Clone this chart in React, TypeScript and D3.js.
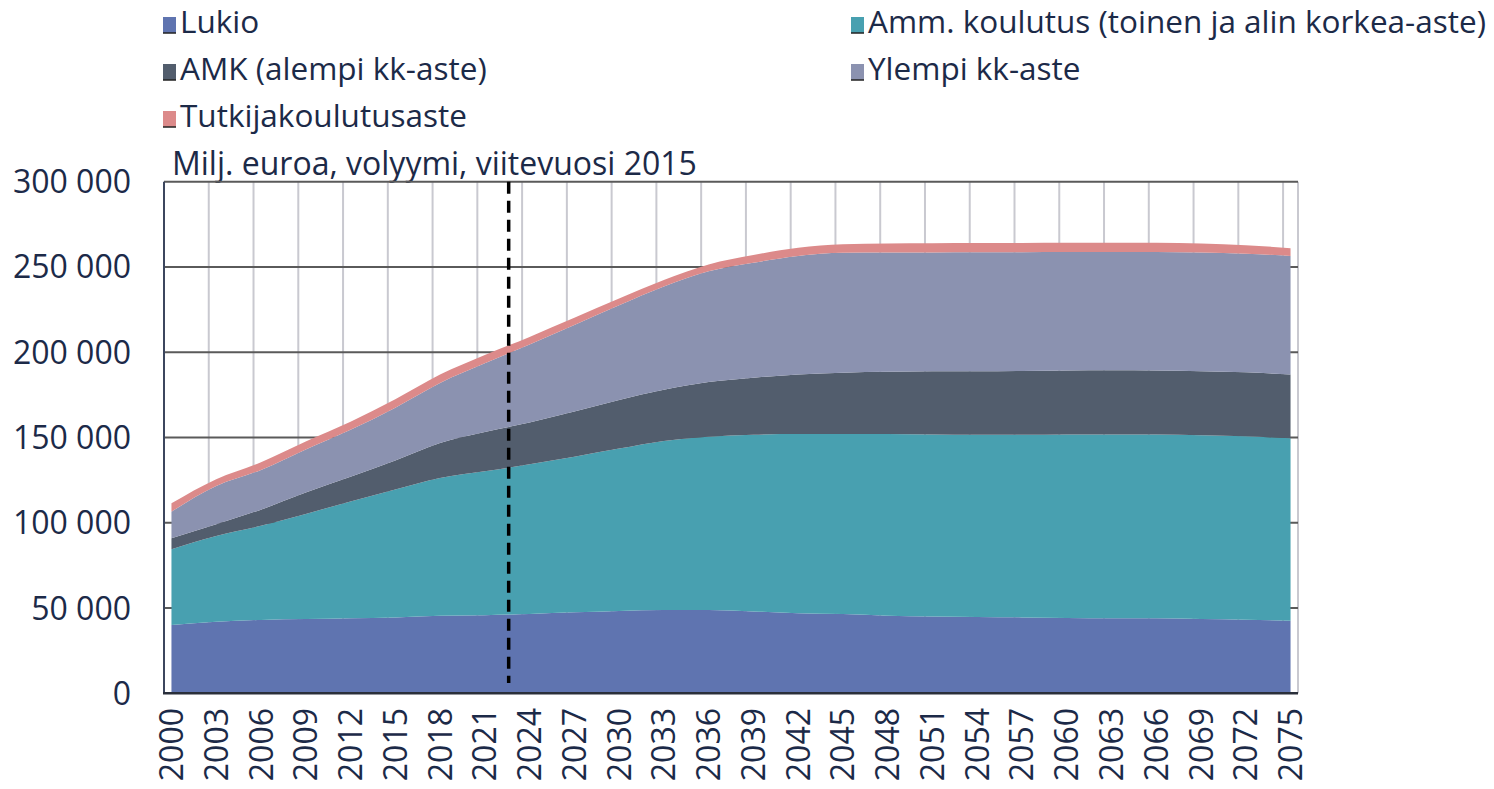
import { FC } from 'react'
import * as d3 from 'd3'

// Vuodet 3 vuoden välein, luettu kuvasta
const years = [
  2000, 2003, 2006, 2009, 2012, 2015, 2018, 2021, 2024, 2027, 2030, 2033, 2036,
  2039, 2042, 2045, 2048, 2051, 2054, 2057, 2060, 2063, 2066, 2069, 2072, 2075,
]

const lukio = [
  40000, 42000, 43000, 43500, 44000, 44500, 45500, 45800, 46500, 47500, 48300, 48800, 48800,
  48000, 47000, 46500, 45500, 45000, 44800, 44500, 44200, 44000, 44000, 43500, 43200, 42600,
]
const ammKoulutus = [
  44400, 50200, 55200, 61700, 68500, 75000, 80800, 84400, 87800, 91200, 95200, 99200, 101700,
  103600, 105000, 105500, 106500, 106800, 106800, 107100, 107600, 107800, 107700, 107800, 107500, 106900,
]
const amk = [
  6500, 7000, 9500, 12500, 14500, 17000, 20500, 23000, 24500, 26500, 28500, 30000, 32000,
  33500, 35000, 36000, 36500, 37000, 37200, 37400, 37500, 37600, 37600, 37600, 37500, 37500,
]
const ylempi = [
  15600, 22300, 23300, 25300, 27500, 31000, 35200, 40300, 45700, 50800, 55500, 60500, 65000,
  67400, 69500, 70300, 70000, 69700, 69800, 69700, 69500, 69400, 69500, 69600, 69600, 69400,
]
const tutkija = [
  4900, 4000, 4500, 4700, 4800, 4900, 4900, 4900, 4500, 4200, 4000, 3900, 4000,
  4500, 4800, 5000, 5300, 5400, 5400, 5400, 5400, 5400, 5400, 5300, 5000, 4600,
]

const seriesNames = [
  'Lukio',
  'Amm. koulutus (toinen ja alin korkea-aste)',
  'AMK (alempi kk-aste)',
  'Ylempi kk-aste',
  'Tutkijakoulutusaste',
]
const seriesColors = ['#5f74b0', '#48a0b0', '#525d6d', '#8b92b0', '#dc8a8a']
const yTicks = [0, 50000, 100000, 150000, 200000, 250000, 300000]
const forecastYear = 2022.6
const title = 'Milj. euroa, volyymi, viitevuosi 2015'

const FONT = '"Open Sans", Lato, sans-serif'
const TEXT = '#1c2a48'

const App: FC = () => {
  const width = 1494
  const height = 789
  const left = 164
  const right = 1298
  const top = 181.7
  const bottom = 693.3

  const x = d3.scaleLinear().domain([1999.5, 2075.5]).range([left, right])
  const y = d3.scaleLinear().domain([0, 300000]).range([bottom, top])

  const keys = ['lukio', 'amm', 'amk', 'ylempi', 'tutkija']
  const rows = years.map((yr, i) => ({
    year: yr,
    lukio: lukio[i],
    amm: ammKoulutus[i],
    amk: amk[i],
    ylempi: ylempi[i],
    tutkija: tutkija[i],
  }))
  const stacked = d3.stack<any>().keys(keys)(rows)

  const area = d3
    .area<any>()
    .x((d) => x(d.data.year))
    .y0((d) => y(d[0]))
    .y1((d) => y(d[1]))
    .curve(d3.curveMonotoneX)

  const gridYears = years.slice(0, -1).map((t) => t + 2.5)

  const legendPos = [
    [163, 33],
    [851, 33],
    [163, 80],
    [851, 80],
    [163, 127],
  ]

  const fmt = (v: number) => d3.format(',')(v).replace(/,/g, ' ')

  return (
    <svg
      width={width}
      height={height}
      style={{ position: 'absolute', left: 0, top: 0, background: '#fff' }}
      fontFamily={FONT}
    >
      {/* legend */}
      {seriesNames.map((name, i) => (
        <g key={name} transform={`translate(${legendPos[i][0]},${legendPos[i][1]})`}>
          <rect x={0} y={-16} width={13} height={16} fill={seriesColors[i]} />
          <line x1={0} x2={13} y1={0} y2={0} stroke="#222" strokeWidth={1.5} />
          <text x={17} y={0} fontSize={31.5} fill={TEXT}>
            {name}
          </text>
        </g>
      ))}

      <text x={172} y={175} fontSize={32} fill={TEXT}>
        {title}
      </text>

      {/* vertical gridlines */}
      {gridYears.map((g) => (
        <line key={g} x1={x(g)} x2={x(g)} y1={top} y2={bottom} stroke="#c9c9d0" strokeWidth={2} />
      ))}
      <line x1={right} x2={right} y1={top} y2={bottom} stroke="#c9c9d0" strokeWidth={2} />

      {/* horizontal gridlines */}
      {yTicks.slice(1).map((t) => (
        <line key={t} x1={left} x2={right} y1={y(t)} y2={y(t)} stroke="#5a5a5a" strokeWidth={2} />
      ))}

      {/* areas */}
      {stacked.map((s, i) => (
        <path key={s.key} d={area(s) as string} fill={seriesColors[i]} />
      ))}

      {/* axes */}
      <line x1={left} x2={left} y1={top} y2={bottom} stroke="#3c465e" strokeWidth={2} />
      <line x1={left - 1} x2={right} y1={bottom} y2={bottom} stroke="#2a2f3a" strokeWidth={2.5} />

      {/* forecast divider */}
      <line
        x1={x(forecastYear)}
        x2={x(forecastYear)}
        y1={top}
        y2={683}
        stroke="#000"
        strokeWidth={3.5}
        strokeDasharray="12,7"
      />

      {/* y tick labels */}
      {yTicks.map((t) => (
        <text
          key={t}
          x={131}
          y={y(t)}
          dy="0.36em"
          textAnchor="end"
          fontSize={32}
          fill={TEXT}
        >
          {fmt(t)}
        </text>
      ))}

      {/* x tick labels */}
      {years.map((yr) => (
        <text
          key={yr}
          transform={`translate(${x(yr)},708) rotate(-90)`}
          textAnchor="end"
          dy="0.36em"
          fontSize={32}
          fill={TEXT}
        >
          {yr}
        </text>
      ))}
    </svg>
  )
}

export default App
